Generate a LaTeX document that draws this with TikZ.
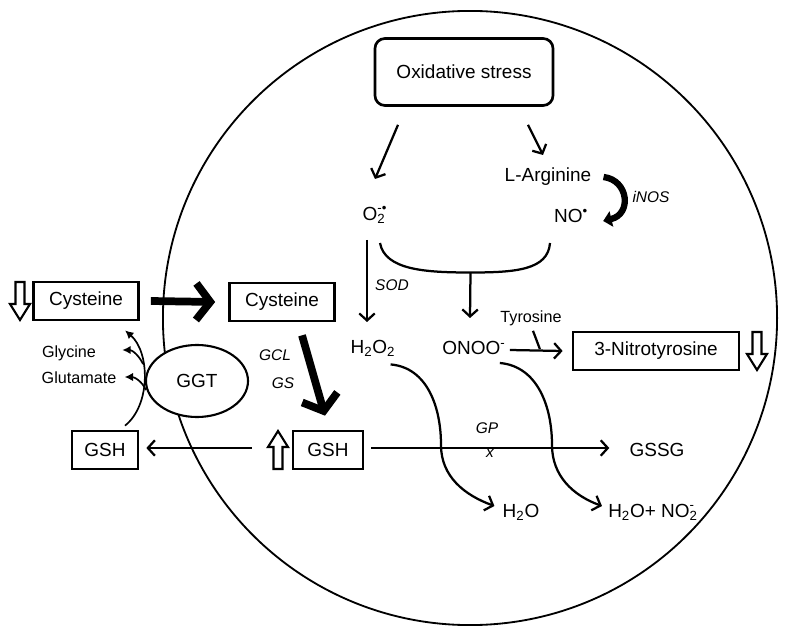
\documentclass[tikz,border=0pt]{standalone}
\usepackage{fontspec}
\setmainfont{Liberation Sans}
\usepackage{tikz}
\usetikzlibrary{arrows.meta,calc,shapes.geometric}

\tikzset{
    lbl/.style={font=\fontsize{13.5}{16}\selectfont, inner sep=0pt},
    small/.style={font=\fontsize{11.5}{14}\selectfont, inner sep=0pt},
    enz/.style={font=\fontsize{11}{13}\selectfont\itshape, inner sep=0pt},
    box/.style={draw, line width=1.9pt, fill=white, font=\fontsize{13.5}{16}\selectfont, minimum height=0.95cm, inner sep=0pt},
    arr/.style={line width=1.6pt, -{Straight Barb[length=5pt,width=11pt]}},
    thinarr/.style={line width=1.2pt, -{Latex[length=6pt,width=6pt]}},
    fat/.style={line width=5.5pt, -{Straight Barb[length=10pt,width=26pt]}},
    pics/fallmark/.style={code={
        \draw[line width=1.5pt, fill=white, line join=miter] (-4.5,-19) -- (4.5,-19) -- (4.5,3) -- (10,3) -- (0,19) -- (-10,3) -- (-4.5,3) -- cycle;
    }},
}

\begin{document}
\begin{tikzpicture}[x=0.025cm, y=-0.025cm]
        \useasboundingbox (0,0) rectangle (789,636);
        \draw [line width=1.3pt] (470,318) circle [radius=7.675cm]; % cell

        \node [box, rounded corners=0.25cm, minimum width=4.45cm, minimum height=1.675cm] (stress) at (464,72) {Oxidative stress};
        \node [lbl] (arginine) at (548,177) {L-Arginine};
        \node [lbl] (superoxide) at (374,215) {O\rlap{\textsuperscript{-\textbullet}}\textsubscript{2}};
        \node [lbl] (nitric) at (571,216) {NO\textsuperscript{\textbullet}};
        \node [enz] (inos) at (651,197) {iNOS};
        \node [enz] (sod) at (392,285) {SOD};
        \node [lbl] (peroxide) at (373,348) {H\textsubscript{2}O\textsubscript{2}};
        \node [lbl] (peroxynitrite) at (474,348) {ONOO\textsuperscript{-}};
        \node [small] (tyrosine) at (531,318) {Tyrosine};
        \node [box, minimum width=4.15cm] (nitrotyr) at (656,351) {3-Nitrotyrosine};
        \node [lbl] (water) at (521,512) {H\textsubscript{2}O};
        \node [lbl] (waternitrite) at (653,512) {H\textsubscript{2}O+ NO\rlap{\textsuperscript{-}}\textsubscript{2}};
        \node [lbl] (gssg) at (657,450) {GSSG};
        \node [enz] (gp) at (487,428) {GP};
        \node [enz] (gpx) at (490,453) {x};

        \node [box, minimum width=2.625cm] (cysout) at (86,301) {Cysteine};
        \node [box, minimum width=2.625cm] (cysin) at (282,302) {Cysteine};
        \node [box, minimum width=1.75cm] (gshin) at (328,450) {GSH};
        \node [box, minimum width=1.65cm] (gshout) at (105,450) {GSH};
        \node [ellipse, draw, line width=1.5pt, fill=white, minimum width=2.55cm, minimum height=1.8cm, font=\fontsize{13.5}{16}\selectfont] (ggt) at (197,381) {GGT};
        \node [small] (glycine) at (69,353) {Glycine};
        \node [small] (glutamate) at (79,378) {Glutamate};
        \node [enz] (gcl) at (275,355) {GCL};
        \node [enz] (gs) at (283,383) {GS};

        \pic at (20,301) {fallmark};
        \pic at (757,351) {fallmark};
        \pic [yscale=-1] at (278,450) {fallmark};

        % oxidative stress branches
        \draw [arr] ($(stress.south)+(-66,18)$) -- ($(superoxide)+(1,-36)$);
        \draw [arr] ($(stress.south)+(64,18)$) -- ($(arginine)+(-5,-22)$);
        \draw [line width=4.5pt, -{Triangle[length=6pt,width=11pt]}] ($(arginine.east)+(12,0)$) .. controls +(25,3) and +(29,-7) .. ($(nitric.east)+(15,5)$); % iNOS
        \draw [arr] ($(superoxide)+(-7,25)$) -- ($(peroxide)+(-6,-26)$); % SOD

        % peroxynitrite
        \coordinate (join) at ($(superoxide)!0.5!(nitric)+(-2,57)$);
        \draw [line width=1.6pt] ($(superoxide)+(6,28)$) .. controls +(5,27) and +(-45,0) .. (join) .. controls +(45,0) and +(-2,27) .. ($(nitric)+(-21,27)$);
        \draw [arr] (join) -- ($(peroxynitrite)+(-4,-30)$);
        \draw [arr] ($(peroxynitrite.east)+(4,2)$) -- ($(nitrotyr.west)+(-9,0)$);
        \draw [line width=1.6pt] ($(tyrosine.south)+(2,5)$) -- ($(peroxynitrite.east)+(34,1)$);

        % GPx
        \draw [arr] ($(gshin.east)+(7,-2)$) -- ($(gssg.west)+(-20,-2)$);
        \draw [arr] ($(peroxide.south east)+(-5,8)$) to [out=-5, in=90] ($(peroxide)+(68,97)$) to [out=-90, in=160] ($(water.west)+(-8,-6)$);
        \draw [arr] ($(peroxynitrite.south east)+(-6,8)$) to [out=-5, in=90] ($(peroxynitrite)+(78,97)$) to [out=-90, in=160] ($(waternitrite.west)+(-6,-6)$);

        % glutathione synthesis
        \draw [fat] ($(cysout.east)+(11,0)$) -- ($(cysin.west)+(-13,0)$);
        \draw [fat] ($(cysin.south)+(20,13)$) -- ($(gshin.north)+(-3,-14)$);
        \draw [arr] ($(gshin.west)+(-40,-2)$) -- ($(gshout.east)+(7,-2)$);

        % GGT cycle
        \draw [thinarr] ($(gshout.north)+(20,-4)$) .. controls (151,405) and (150,352) .. ($(cysout.south)+(39,9)$);
        \draw [thinarr] (143,364) to [out=115, in=0] ($(glycine.east)+(26,-3)$);
        \draw [thinarr] (146,390) to [out=115, in=0] ($(glutamate.east)+(8,-1)$);
\end{tikzpicture}
\end{document}
